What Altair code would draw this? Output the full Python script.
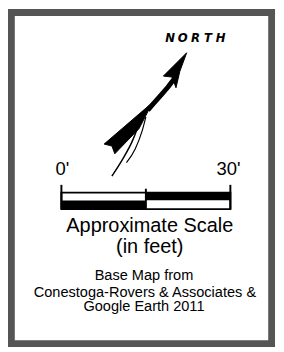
import altair as alt
import pandas as pd

# ---- data (page-pixel coordinates of the legend graphic) ----
frame_x, frame_x2, frame_y, frame_y2 = [11.5], [279.5], [7.5], [348.5]

cell_x = [63, 63, 150, 150]
cell_x2 = [150, 150, 237, 237]
cell_y = [193, 201, 193, 201]
cell_y2 = [201, 210, 201, 210]
cell_fill = ["white", "black", "black", "white"]

tick_x = [63, 150, 237]
tick_top = [185, 189, 185]
tick_bot = [210, 210, 210]

label_text = ["0'", "30'", "Approximate Scale", "(in feet)", "Base Map from",
              "Conestoga-Rovers & Associates &", "Google Earth 2011"]
label_x = [64, 235, 154, 154, 148, 149, 148]
label_y = [175, 175, 234, 255, 283, 300, 315]
label_size = [19, 19, 20.5, 20.5, 15, 15, 15]

north_letters = ["N", "O", "R", "T", "H"]
north_x = [175, 188, 201, 214, 227]
north_y = [38, 38, 38, 38, 38]

head_x = [192, 168, 177, 181, 185]
head_y = [49, 73, 74, 85, 68]

shaft_x = [182, 173, 166, 158, 152]
shaft_y = [72, 84, 92, 101, 108]

fin_x = [157, 107, 115, 118, 143]
fin_y = [100, 143, 145, 153, 127]

tail1_x = [143, 136, 127, 115]
tail1_y = [122, 140, 157, 176]
tail2_x = [150, 146, 139, 130]
tail2_y = [115, 130, 148, 162]

# ---- build ----
xs = alt.Scale(domain=[8, 284])
ys = alt.Scale(domain=[8, 352], reverse=True)
X = lambda f: alt.X(f, type="quantitative", scale=xs, axis=None)
Y = lambda f: alt.Y(f, type="quantitative", scale=ys, axis=None)

frame = alt.Chart(pd.DataFrame({"x": frame_x, "x2": frame_x2, "y": frame_y, "y2": frame_y2})).mark_rect(
    filled=False, stroke="#555555", strokeWidth=7, clip=False
).encode(x=X("x"), x2="x2", y=Y("y"), y2="y2")

cells = alt.Chart(pd.DataFrame({"x": cell_x, "x2": cell_x2, "y": cell_y, "y2": cell_y2, "f": cell_fill})).mark_rect(
).encode(x=X("x"), x2="x2", y=Y("y"), y2="y2", fill=alt.Fill("f:N", scale=None))

outline = alt.Chart(pd.DataFrame({"x": [cell_x[0]], "x2": [cell_x2[-1]], "y": [cell_y[0]], "y2": [cell_y2[1]]})).mark_rect(
    filled=False, stroke="black", strokeWidth=2
).encode(x=X("x"), x2="x2", y=Y("y"), y2="y2")

ticks = alt.Chart(pd.DataFrame({"x": tick_x, "y": tick_top, "y2": tick_bot})).mark_rule(
    color="black", strokeWidth=2
).encode(x=X("x"), y=Y("y"), y2="y2")

labels = alt.Chart(pd.DataFrame({"t": label_text, "x": label_x, "y": label_y, "s": label_size})).mark_text(
    align="center", baseline="alphabetic", font="Liberation Sans", color="black"
).encode(x=X("x"), y=Y("y"), text="t:N", size=alt.Size("s:Q", scale=None))

north = alt.Chart(pd.DataFrame({"t": north_letters, "x": north_x, "y": north_y})).mark_text(
    align="center", baseline="alphabetic", font="DejaVu Sans", fontSize=12,
    fontStyle="italic", fontWeight="bold", color="black"
).encode(x=X("x"), y=Y("y"), text="t:N")

def poly(xv, yv):
    return alt.Chart(pd.DataFrame({"x": xv, "y": yv, "i": list(range(len(xv)))})).mark_line(
        interpolate="linear-closed", fill="black", stroke="black", strokeWidth=1
    ).encode(x=X("x"), y=Y("y"), order="i:Q")

def path(xv, yv, w, interp="monotone"):
    return alt.Chart(pd.DataFrame({"x": xv, "y": yv, "i": list(range(len(xv)))})).mark_line(
        stroke="black", strokeWidth=w, interpolate=interp
    ).encode(x=X("x"), y=Y("y"), order="i:Q")

chart = alt.layer(
    frame, cells, outline, ticks, labels, north,
    poly(head_x, head_y), path(shaft_x, shaft_y, 5, "linear"), poly(fin_x, fin_y),
    path(tail1_x, tail1_y, 1.5), path(tail2_x, tail2_y, 1.2)
).properties(width=276, height=344, padding=0, autosize="none").configure_view(stroke=None)

chart.save("out.html", embed_options={"renderer": "svg", "actions": False})
